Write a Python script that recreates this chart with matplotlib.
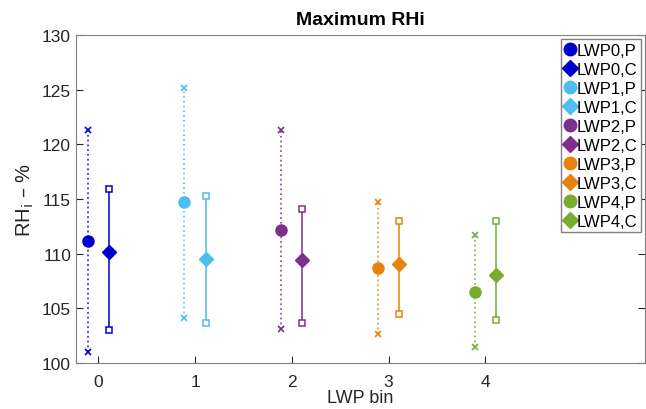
import matplotlib
matplotlib.use("Agg")
import matplotlib.pyplot as plt
from matplotlib.lines import Line2D

plt.rcParams.update({"font.family": ["Liberation Sans", "DejaVu Sans"], "font.size": 12})

# LWP bins, P (dotted, x ends) and C (solid, square ends)
bins = [0, 1, 2, 3, 4]
colors = ["#0000CD", "#4DBEEE", "#7E2F8E", "#E8820C", "#77AC30"]
p_mid = [111.2, 114.7, 112.2, 108.7, 106.5]
p_lo = [101.0, 104.1, 103.1, 102.7, 101.5]
p_hi = [121.3, 125.2, 121.3, 114.7, 111.7]
c_mid = [110.2, 109.5, 109.4, 109.1, 108.1]
c_lo = [103.0, 103.7, 103.7, 104.5, 103.9]
c_hi = [115.9, 115.3, 114.1, 113.0, 113.0]
OFF = 0.11

fig = plt.figure(figsize=(6.46, 4.10), dpi=100)
ax = fig.add_axes([0.1176, 0.112, 0.881, 0.8])

handles = []
for i, b in enumerate(bins):
    col = colors[i]
    xp, xc = b - OFF, b + OFF
    ax.plot([xp, xp], [p_lo[i], p_hi[i]], ls=":", color=col, lw=1.3, alpha=0.8)
    ax.plot([xp, xp], [p_lo[i], p_hi[i]], ls="none", marker="x", ms=4, mew=1.2, color=col)
    ax.plot(xp, p_mid[i], "o", ms=8, color=col)
    ax.plot([xc, xc], [c_lo[i], c_hi[i]], ls="-", color=col, lw=1.3, alpha=0.85)
    ax.plot([xc, xc], [c_lo[i], c_hi[i]], ls="none", marker="s", ms=5, mew=1.1,
            mfc="white", color=col)
    ax.plot(xc, c_mid[i], "D", ms=7.5, color=col)
    handles.append(Line2D([], [], ls="none", marker="o", ms=9, color=col, label=f"LWP{b},P"))
    handles.append(Line2D([], [], ls="none", marker="D", ms=8, color=col, label=f"LWP{b},C"))

ax.set_xlim(-0.23, 5.65)
ax.set_ylim(100, 130)
ax.set_xticks(bins)
ax.set_yticks(range(100, 131, 5))
ax.tick_params(direction="in", length=5, colors="#262626", top=False, right=True, labelsize=12.5)
ax.tick_params(axis="x", pad=8)
for s in ax.spines.values():
    s.set_color("#808080")
ax.set_xlabel("LWP bin", fontsize=13, color="#262626", labelpad=0)
ax.set_ylabel("RH$_\\mathrm{i}$ – %", fontsize=14.5, color="#262626")
ax.set_title("Maximum RHi", fontsize=14, fontweight="bold", pad=8)

leg = ax.legend(handles=handles, loc="upper right", fontsize=12, handlelength=0.7,
                handletextpad=0.05, borderpad=0.2, labelspacing=0.24, borderaxespad=0.25,
                fancybox=False, framealpha=1)
leg.get_frame().set_edgecolor("#808080")

fig.savefig("out.png", dpi=100)
